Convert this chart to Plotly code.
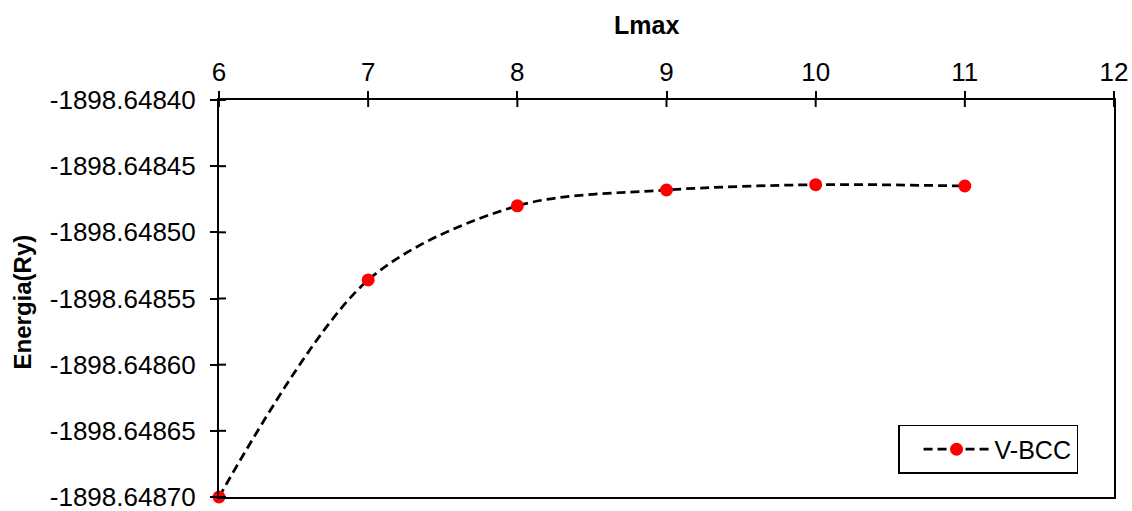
import plotly.graph_objects as go

# Lmax convergence of the total energy for V-BCC
lmax = [6, 7, 8, 9, 10, 11]
energia = [-1898.648700, -1898.648536, -1898.648480, -1898.648468, -1898.648464, -1898.648465]

x_ticks = [6, 7, 8, 9, 10, 11, 12]
y_ticks = [-1898.64840, -1898.64845, -1898.64850, -1898.64855, -1898.64860, -1898.64865, -1898.64870]
y_tick_text = ["-1898.64840", "-1898.64845", "-1898.64850", "-1898.64855",
               "-1898.64860", "-1898.64865", "-1898.64870"]

FONT = "Liberation Sans, Arial, sans-serif"
TICK_LEN = 7

fig = go.Figure()
fig.add_trace(go.Scatter(
    x=lmax, y=energia, name="V-BCC", mode="lines+markers",
    line=dict(color="black", width=2.75, dash="9px,5px", shape="spline", smoothing=0.9),
    marker=dict(color="#ff0000", size=13),
    cliponaxis=False,
))

axis_common = dict(showgrid=False, zeroline=False, linecolor="black", linewidth=2,
                   tickcolor="black", tickwidth=2, ticks="outside", ticklen=TICK_LEN,
                   mirror=True, ticklabeloverflow="allow", automargin=False)

fig.update_layout(
    width=1132, height=511,
    margin=dict(l=219, r=18, t=100, b=14),
    paper_bgcolor="white", plot_bgcolor="white",
    font=dict(family=FONT, size=25, color="black"),
    xaxis=dict(side="top", range=[6, 12], tickvals=x_ticks,
               tickfont=dict(size=26), **axis_common),
    yaxis=dict(range=[y_ticks[-1], y_ticks[0]], tickvals=y_ticks, ticktext=y_tick_text,
               tickfont=dict(size=26), ticklabelstandoff=9, **axis_common),
    legend=dict(x=0.7587, y=0.058, xanchor="left", yanchor="bottom",
                bgcolor="white", bordercolor="black", borderwidth=1.5,
                font=dict(size=25), itemwidth=66, indentation=19),
    showlegend=True,
)

# axis titles
fig.add_annotation(text="<b>Lmax</b>", xref="paper", yref="paper", x=0, y=1,
                   xshift=646 - 219, yshift=100 - 25, xanchor="center", yanchor="middle",
                   showarrow=False, font=dict(size=25))
fig.add_annotation(text="<b>Energia(Ry)</b>", xref="paper", yref="paper", x=0, y=0.49,
                   xshift=22 - 219, xanchor="center", yanchor="middle", textangle=-90,
                   showarrow=False, font=dict(size=24))

# inner half of the crossing tick marks on the top and left axes
for xv in x_ticks:
    fig.add_shape(type="line", xref="x", yref="paper", x0=xv, x1=xv,
                  ysizemode="pixel", yanchor=1, y0=0, y1=-TICK_LEN,
                  line=dict(color="black", width=2))
for yv in y_ticks:
    fig.add_shape(type="line", xref="paper", yref="y", y0=yv, y1=yv,
                  xsizemode="pixel", xanchor=0, x0=0, x1=TICK_LEN,
                  line=dict(color="black", width=2))

fig.write_html("out.html")
